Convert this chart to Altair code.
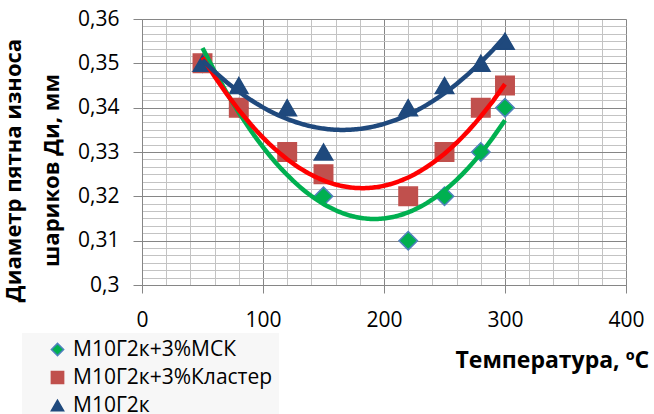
import altair as alt
import pandas as pd
import numpy as np

# Data
temps = [50, 80, 120, 150, 220, 250, 280, 300]
msk = [0.35, 0.34, 0.33, 0.32, 0.31, 0.32, 0.33, 0.34]
klaster = [0.35, 0.34, 0.33, 0.325, 0.32, 0.33, 0.34, 0.345]
base_oil = [0.35, 0.345, 0.34, 0.33, 0.34, 0.345, 0.35, 0.355]

series_names = ["М10Г2к+3%МСК", "М10Г2к+3%Кластер", "М10Г2к"]
fill_colors = ["#00B050", "#C0504D", "#1F497D"]
stroke_colors = ["#4F81BD", "#C0504D", "#1F497D"]
shapes = ["diamond", "square", "triangle-up"]
trend_colors = ["#00B050", "#FF0000", "#1F497D"]

rows = []
for name, vals in zip(series_names, [msk, klaster, base_oil]):
    for t, d in zip(temps, vals):
        rows.append({"series": name, "t": t, "d": d})
df = pd.DataFrame(rows)

x_grid = [float(v) for v in np.arange(0, 401, 20)]
y_grid = [float(round(0.30 + i * 0.01 / 6, 6)) for i in range(37)]

FONT = "Open Sans"
MAJOR = "#868686"
MINOR = "#C3C3C3"

x_major_test = "datum.value % 100 === 0"
y_major_test = "abs(datum.value * 100 - round(datum.value * 100)) < 0.001"

x_axis = alt.Axis(
    values=x_grid,
    labelExpr=f"{x_major_test} ? datum.label : ''",
    gridColor={"condition": {"test": x_major_test, "value": MAJOR}, "value": MINOR},
    tickOpacity={"condition": {"test": x_major_test, "value": 1}, "value": 0},
    tickColor=MAJOR,
    tickSize=8,
    domainColor=MAJOR,
    labelFont=FONT,
    labelFontSize=21,
    labelColor="#000000",
    labelPadding=16,
    labelFlush=False,
    labelOverlap=False,
    title="Температура, ºC",
    titleFont=FONT,
    titleFontSize=23,
    titleFontWeight="bold",
    titleColor="#000000",
    titleAlign="left",
    titleBaseline="middle",
    titleX=313,
    titleY=75,
)

y_axis = alt.Axis(
    values=y_grid,
    labelExpr=f"{y_major_test} ? replace(format(datum.value, '.2~f'), '.', ',') : ''",
    gridColor={"condition": {"test": y_major_test, "value": MAJOR}, "value": MINOR},
    tickOpacity={"condition": {"test": y_major_test, "value": 1}, "value": 0},
    tickColor=MAJOR,
    tickSize=9,
    domainColor=MAJOR,
    labelFont=FONT,
    labelFontSize=21,
    labelColor="#000000",
    labelPadding=14,
    labelFlush=False,
    labelOverlap=False,
    title=["Диаметр пятна износа", "шариков Ди, мм"],
    titleFont=FONT,
    titleFontSize=22,
    titleFontWeight="bold",
    titleColor="#000000",
    titleAngle=270,
    titleAlign="center",
    titleBaseline="middle",
    titleLineHeight=38,
    titleX=-129,
    titleY=151,
)

x_scale = alt.Scale(domain=[0, 400], nice=False, zero=False)
y_scale = alt.Scale(domain=[0.30, 0.36], nice=False, zero=False)

points = alt.Chart(df).mark_point(filled=True, size=340, strokeWidth=1.5, opacity=1).encode(
    x=alt.X("t:Q", scale=x_scale, axis=x_axis),
    y=alt.Y("d:Q", scale=y_scale, axis=y_axis),
    color=alt.Color("series:N", scale=alt.Scale(domain=series_names, range=fill_colors),
                    legend=alt.Legend(title=None, orient="none", legendX=-120, legendY=314,
                                      labelFont=FONT, labelFontSize=21, labelColor="#000000",
                                      labelLimit=400,
                                      symbolSize=150, symbolStrokeWidth=1.5, rowPadding=6,
                                      padding=6, symbolOffset=19, labelOffset=5,
                                      fillColor="#F7F7F7", symbolOpacity=1)),
    shape=alt.Shape("series:N", scale=alt.Scale(domain=series_names, range=shapes)),
    stroke=alt.Stroke("series:N", scale=alt.Scale(domain=series_names, range=stroke_colors)),
)

trend_layers = []
for name, col in zip(series_names, trend_colors):
    trend_layers.append(
        alt.Chart(df).transform_filter(alt.datum.series == name)
        .transform_regression("t", "d", method="poly", order=2)
        .mark_line(strokeWidth=4.5, color=col)
        .encode(x=alt.X("t:Q", scale=x_scale, axis=x_axis),
                y=alt.Y("d:Q", scale=y_scale, axis=y_axis))
    )

chart = alt.layer(points, *trend_layers).properties(
    width=484, height=266,
    autosize=alt.AutoSizeParams(type="none"),
    padding={"left": 142, "top": 19, "right": 28, "bottom": 129},
).configure_view(strokeWidth=0).configure(background="#FFFFFF")

chart.save("out.html", embed_options={"renderer": "svg", "actions": False})
